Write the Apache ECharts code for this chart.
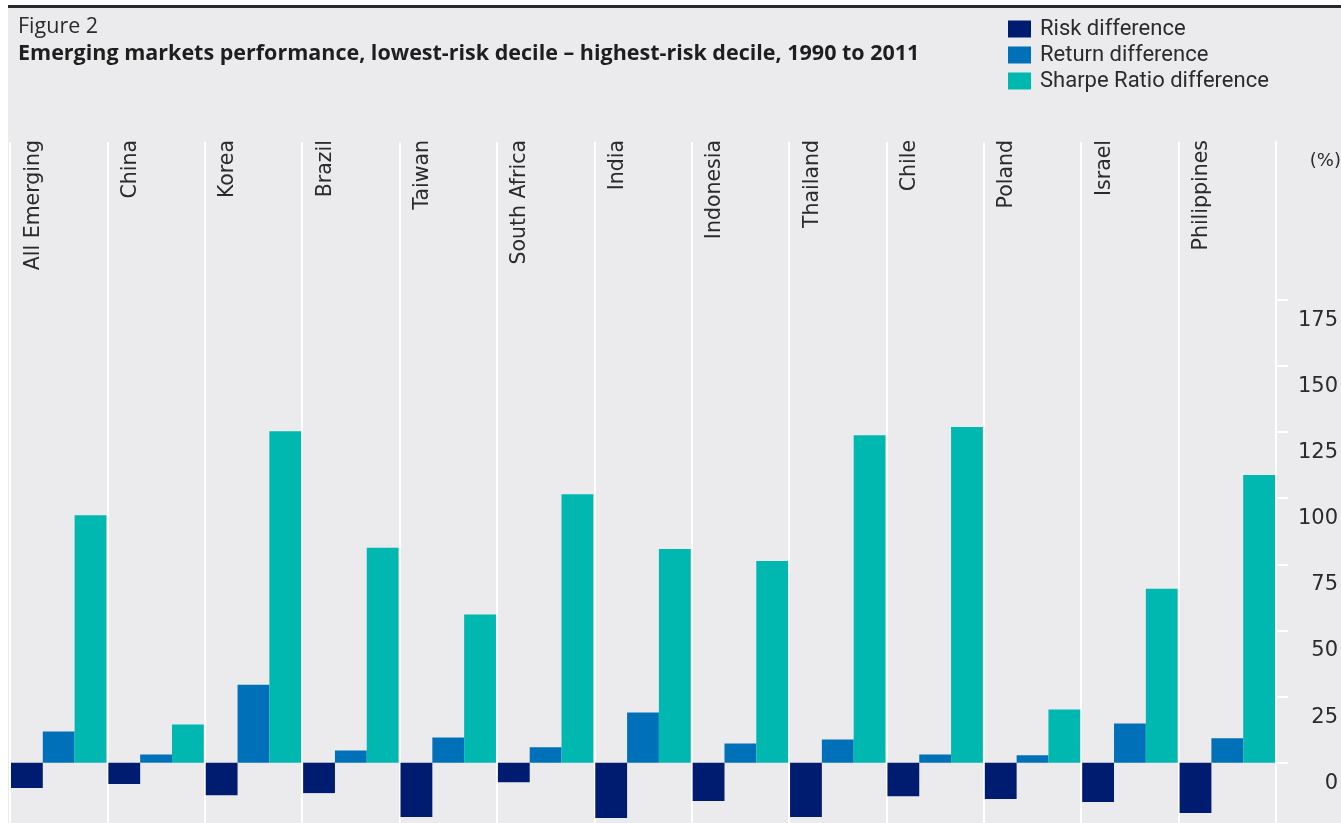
<!DOCTYPE html>
<html>
<head>
<meta charset="utf-8">
<script src="https://cdn.jsdelivr.net/npm/echarts@6/dist/echarts.min.js"></script>
<style>
  html, body { margin: 0; padding: 0; background: #ffffff; }
  #chart { position: absolute; left: 8px; top: 0; width: 1333px; height: 823px; }
</style>
</head>
<body>
<div id="chart"></div>
<script>
const categories = ['All Emerging', 'China', 'Korea', 'Brazil', 'Taiwan', 'South Africa', 'India', 'Indonesia', 'Thailand', 'Chile', 'Poland', 'Israel', 'Philippines'];
const riskDiff   = [-9.6, -8.1, -12.3, -11.5, -20.5, -7.4, -20.9, -14.5, -20.5, -12.7, -13.7, -14.9, -19.0];
const returnDiff = [11.8, 3.1, 29.5, 4.6, 9.5, 5.8, 19.0, 7.3, 8.8, 3.1, 2.8, 14.8, 9.2];
const sharpeDiff = [93.6, 14.4, 125.3, 81.3, 56.0, 101.5, 80.8, 76.3, 123.8, 126.9, 20.1, 65.8, 108.8];
const yTicks = [0, 25, 50, 75, 100, 125, 150, 175];
const seriesNames = ['Risk difference', 'Return difference', 'Sharpe Ratio difference'];
const titleText = 'Figure 2';
const subtitleText = 'Emerging markets performance, lowest-risk decile \u2013 highest-risk decile, 1990 to 2011';
const unitText = '(%)';

const chart = echarts.init(document.getElementById('chart'), null, { renderer: 'canvas' });
const colors = ['#001c70', '#0071b9', '#00b8b0'];
const txt = '#2b2b2b';

chart.setOption({
  animation: false,
  backgroundColor: '#ebebee',
  color: colors,
  title: {
    text: titleText,
    subtext: subtitleText,
    left: 10, top: 16,
    padding: 0,
    itemGap: 5,
    textStyle: { fontFamily: 'Open Sans', fontSize: 21.5, fontWeight: 'normal', color: txt },
    subtextStyle: { fontFamily: 'Open Sans', fontSize: 21.5, fontWeight: 'bold', color: '#1e1e1e' }
  },
  legend: {
    orient: 'vertical',
    left: 1000, top: 18,
    itemWidth: 23, itemHeight: 17, itemGap: 4,
    icon: 'rect',
    padding: 0,
    textStyle: { fontFamily: 'Roboto', fontSize: 22, color: txt, padding: [0, 0, 0, 4] },
    data: seriesNames
  },
  graphic: [
    { type: 'rect', left: 0, top: 0, shape: { width: 1333, height: 5 }, style: { fill: '#ffffff' }, silent: true },
    { type: 'rect', left: 0, top: 5, shape: { width: 1333, height: 3 }, style: { fill: '#2a2a2a' }, silent: true },
    { type: 'text', right: 0, top: 152, style: { text: unitText, font: '18px "DejaVu Sans"', fill: txt } }
  ],
  grid: { left: 2, right: 55, top: 142, bottom: 0, containLabel: false },
  xAxis: {
    type: 'category',
    position: 'top',
    data: categories,
    boundaryGap: true,
    axisLine: { show: false },
    axisTick: { show: false },
    splitLine: { show: true, lineStyle: { color: '#ffffff', width: 2 } },
    axisLabel: {
      inside: true, rotate: 90, interval: 0, margin: -2,
      fontFamily: 'DejaVu Sans', fontSize: 20.5, color: txt,
      verticalAlign: 'bottom', padding: [0, 0, 15, 0]
    }
  },
  yAxis: {
    type: 'value',
    position: 'right',
    min: -22.8, max: 234.7,
    axisLine: { show: true, lineStyle: { color: '#ffffff', width: 2 } },
    axisTick: { show: true, length: 12, lineStyle: { color: '#ffffff', width: 2 }, customValues: yTicks },
    splitLine: { show: false },
    axisLabel: {
      customValues: yTicks,
      fontFamily: 'DejaVu Sans', fontSize: 21, color: txt,
      align: 'right', margin: 62, verticalAlign: 'top', padding: [10, 0, 0, 0]
    }
  },
  series: [
    { name: seriesNames[0], type: 'bar', data: riskDiff, barGap: '0%', barCategoryGap: '2%' },
    { name: seriesNames[1], type: 'bar', data: returnDiff, barGap: '0%', barCategoryGap: '2%' },
    { name: seriesNames[2], type: 'bar', data: sharpeDiff, barGap: '0%', barCategoryGap: '2%' }
  ]
});
</script>
</body>
</html>
